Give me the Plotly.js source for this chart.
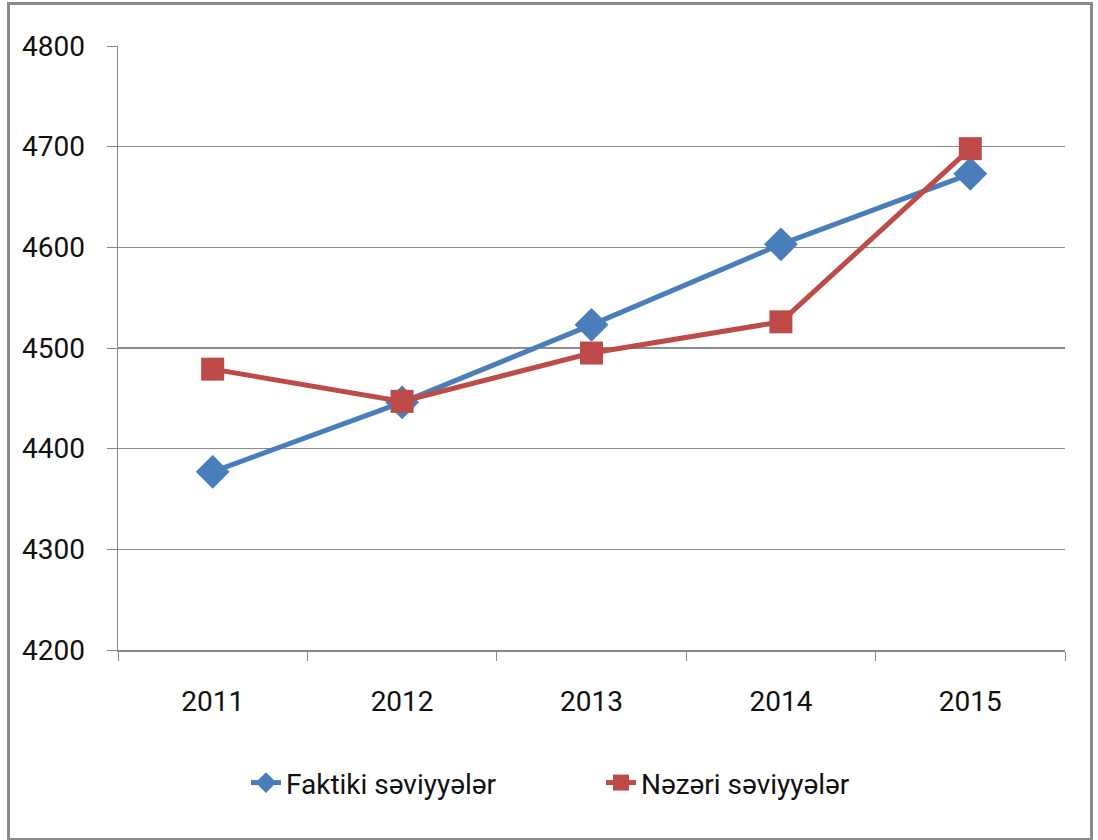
<!DOCTYPE html>
<html><head><meta charset="utf-8">
<script src="https://cdn.plot.ly/plotly-3.0.1.min.js"></script>
<style>
html,body{margin:0;padding:0;background:#fff;}
#wrap{position:relative;width:1098px;height:840px;}
#chart{width:1098px;height:840px;}
#frame{position:absolute;left:7px;top:2px;width:1080px;height:833px;border:3px solid #8a8a8a;pointer-events:none;}
</style></head>
<body>
<div id="wrap"><div id="chart"></div><div id="frame"></div></div>
<script>
const years = ['2011','2012','2013','2014','2015'];
const faktiki = [4377, 4446, 4523, 4603, 4673];
const nazeri = [4479, 4447, 4495, 4526, 4698];
const seriesNames = ['Faktiki səviyyələr', 'Nəzəri səviyyələr'];
const yTicks = [4200, 4300, 4400, 4500, 4600, 4700, 4800];

const fontFam = 'Roboto, "Open Sans", sans-serif';
const traces = [
  {x: years, y: faktiki, name: seriesNames[0], type: 'scatter', mode: 'lines+markers',
   line: {color: '#4A7EBB', width: 5}, marker: {symbol: 'diamond', size: 26, color: '#4A7EBB'}},
  {x: years, y: nazeri, name: seriesNames[1], type: 'scatter', mode: 'lines+markers',
   line: {color: '#BE4B48', width: 5}, marker: {symbol: 'square', size: 23, color: '#BE4B48'}}
];
const layout = {
  width: 1098, height: 840,
  margin: {l: 118, r: 33, t: 46, b: 190},
  paper_bgcolor: '#fff', plot_bgcolor: '#fff',
  font: {family: fontFam, size: 28, color: '#111'},
  showlegend: true,
  legend: {orientation: 'h', x: 0.51, xanchor: 'center', y: -0.22, yanchor: 'middle',
           entrywidth: 310, entrywidthmode: 'pixels',
           font: {family: fontFam, size: 28, color: '#111'}, traceorder: 'normal'},
  xaxis: {type: 'category', range: [-0.5, 4.5], tickson: 'boundaries', ticks: 'outside', ticklen: 9, tickcolor: '#888',
          showline: true, linecolor: '#888', linewidth: 1.5, showgrid: false, zeroline: false,
          ticklabelstandoff: 26, fixedrange: true},
  yaxis: {range: [4200, 4800], tickvals: yTicks, ticktext: yTicks.map(String), ticks: 'outside', ticklen: 10,
          tickcolor: '#888', showline: true, linecolor: '#888', linewidth: 1.5,
          showgrid: true, gridcolor: '#8c8c8c', gridwidth: 1.5, zeroline: false,
          ticklabelstandoff: 16, fixedrange: true}
};
Plotly.newPlot('chart', traces, layout, {displayModeBar: false, staticPlot: true});
</script>
</body></html>
